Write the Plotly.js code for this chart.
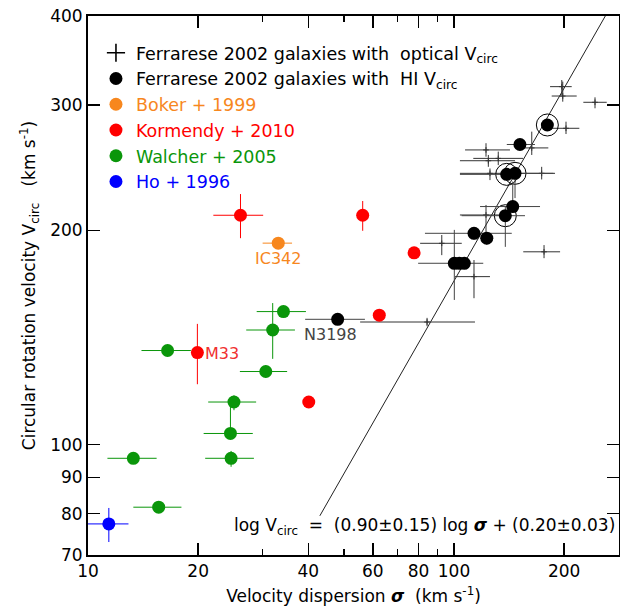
<!DOCTYPE html>
<html>
<head>
<meta charset="utf-8">
<script src="https://cdn.plot.ly/plotly-3.0.1.min.js"></script>
<style>html,body{margin:0;padding:0;background:#fff;}#chart{width:620px;height:612px;}</style>
</head>
<body>
<div id="chart"></div>
<script>
// ---- Ferrarese 2002, optical V_circ (crosses) ----
const optSigma      = [197.0, 198.2, 242.8, 202.3, 163.1, 122.3, 124.1, 132.1, 173.6, 125.4, 122.3, 92.6, 176.2, 113.4, 84.4];
const optSigmaMinus = [14.0, 13.3, 17.2, 17.4, 14.7, 15.1, 20.3, 19.2, 26.8, 21.6, 18.5, 11.8, 21.6, 12.8, 29.0];
const optSigmaPlus  = [12.7, 18.2, 18.6, 17.7, 17.9, 19.9, 22.7, 22.5, 15.2, 9.6, 19.9, 12.4, 18.7, 12.0, 29.7];
const optV          = [318.3, 308.8, 302.6, 278.2, 261.1, 259.4, 250.5, 252.4, 240.5, 240.5, 210.2, 191.8, 186.6, 172.2, 148.7];
const optVPlus      = [6.9, 14.7, 4.9, 6.0, 14.1, 5.7, 4.7, 5.6, 5.1, 3.8, 6.9, 5.2, 4.1, 9.5, 2.0];
const optVMinus     = [8.5, 5.6, 5.8, 5.1, 5.9, 5.6, 4.9, 5.4, 4.7, 5.2, 11.9, 7.2, 3.8, 11.6, 2.0];

// ---- Ferrarese 2002, HI V_circ (black dots) ----
const hiNames      = ['', '', '', '', '', '', '', '', '', '', '', 'N3198'];
const hiSigma      = [179.9, 151.4, 139.3, 146.8, 144.7, 138.1, 113.4, 122.9, 100.2, 103.4, 106.7, 48.1];
const hiSigmaMinus = [5, 12, 35.5, 10, 26.9, 33.2, 30.1, 5, 0, 23.6, 0, 8.9];
const hiSigmaPlus  = [5, 15, 10, 40, 27.1, 18.2, 30.4, 5, 0, 16.8, 0, 9.0];
const hiV          = [281.2, 264.0, 239.7, 240.5, 216.0, 209.7, 198.1, 195.0, 179.8, 179.8, 179.8, 150.0];
const hiVPlus      = [4, 4, 4, 5.1, 18.2, 6.3, 4, 4, 20.5, 0, 0, 0];
const hiVMinus     = [4, 4, 4, 18.5, 4, 20.1, 4, 4, 20.1, 0, 0, 0];
// HI galaxies marked with an open ring
const ringSigma    = [179.9, 139.3, 146.8, 138.1];
const ringV        = [281.2, 239.7, 240.5, 209.7];

// ---- Boker + 1999 ----
const bokNames = ['IC342'];
const bokSigma = [33.1], bokSigmaMinus = [3.1], bokSigmaPlus = [3.0];
const bokV = [191.9];

// ---- Kormendy + 2010 ----
const korNames      = ['', '', '', '', '', 'M33'];
const korSigma      = [26.1, 56.3, 77.8, 62.5, 40.1, 19.9];
const korSigmaMinus = [4.1, 0, 0, 0, 1.0, 0];
const korSigmaPlus  = [4.0, 0, 0, 0, 1.0, 0];
const korV          = [210.0, 210.0, 186.0, 152.0, 114.8, 134.7];
const korVPlus      = [14.9, 9.9, 0, 2, 0, 13.1];
const korVMinus     = [15.0, 10.3, 0, 2, 0, 13.1];

// ---- Walcher + 2005 ----
const walSigma      = [16.5, 34.2, 31.96, 30.6, 25.05, 24.5, 24.6, 13.3, 15.6];
const walSigmaMinus = [2.5, 5.3, 4.9, 4.6, 3.75, 3.8, 3.7, 2.0, 2.3];
const walSigmaPlus  = [2.6, 5.2, 4.8, 4.4, 3.75, 3.7, 3.8, 2.1, 2.4];
const walV          = [135.6, 153.8, 144.9, 126.7, 114.8, 103.7, 95.7, 95.7, 81.7];
const walVPlus      = [0, 2, 13.2, 2.5, 2.5, 11.1, 2.3, 0, 1.3];
const walVMinus     = [0, 2, 12.9, 2.5, 3.0, 1.0, 2.6, 0, 1.3];

// ---- Ho + 1996 ----
const hoSigma = [11.4], hoSigmaMinus = [1.4], hoSigmaPlus = [1.5];
const hoV = [77.4], hoVPlus = [4.1], hoVMinus = [4.4];

// ---- fitted relation (as drawn) ----
const fitSlope = 0.9, fitIntercept = 0.43;
const fitSigmaRange = [43, 260];

// ---- axis ticks ----
const xTickVals = [10, 20, 40, 60, 80, 100, 200];
const xMinorVals = [30, 50, 70, 90];
const yTickVals = [70, 80, 90, 100, 200, 300, 400];

const FONT = 'DejaVu Sans, Arial, sans-serif';
const ORANGE = '#f7871e', RED = '#ff0000', GREEN = '#0a960a', BLUE = '#0000ff';

function eb(plus, minus, color, w) {
  return {type: 'data', symmetric: false, array: plus, arrayminus: minus,
          color: color, thickness: w || 1, width: 0};
}

const fitX = fitSigmaRange;
const fitY = fitSigmaRange.map(s => Math.pow(10, fitSlope * Math.log10(s) + fitIntercept));

const traces = [
  {x: fitX, y: fitY, mode: 'lines', line: {color: '#222', width: 1}, showlegend: false, hoverinfo: 'skip'},
  // legend entry only for the optical crosses
  {x: [null], y: [null], mode: 'markers', name: 'Ferrarese 2002 galaxies with\u00a0 optical V<sub>circ</sub>',
   marker: {symbol: 'cross-thin', size: 13, line: {color: '#000', width: 1.6}, color: '#000'}},
  {x: optSigma, y: optV, mode: 'markers', showlegend: false,
   marker: {symbol: 'cross-thin', size: 4, line: {color: '#333', width: 1}, color: '#333'},
   error_x: eb(optSigmaPlus, optSigmaMinus, '#333', 1), error_y: eb(optVPlus, optVMinus, '#333', 1)},
  {x: ringSigma, y: ringV, mode: 'markers', showlegend: false,
   marker: {symbol: 'circle-open', size: 22, color: '#000', line: {width: 1, color: '#000'}}},
  {x: hiSigma, y: hiV, mode: 'markers', name: 'Ferrarese 2002 galaxies with\u00a0 HI V<sub>circ</sub>',
   marker: {symbol: 'circle', size: 13, color: '#000'},
   error_x: eb(hiSigmaPlus, hiSigmaMinus, '#444', 1), error_y: eb(hiVPlus, hiVMinus, '#444', 1)},
  {x: bokSigma, y: bokV, mode: 'markers', name: '<span style="color:' + ORANGE + '">Boker + 1999</span>',
   marker: {symbol: 'circle', size: 13, color: ORANGE},
   error_x: eb(bokSigmaPlus, bokSigmaMinus, ORANGE, 1)},
  {x: korSigma, y: korV, mode: 'markers', name: '<span style="color:' + RED + '">Kormendy + 2010</span>',
   marker: {symbol: 'circle', size: 13, color: RED},
   error_x: eb(korSigmaPlus, korSigmaMinus, RED, 1), error_y: eb(korVPlus, korVMinus, RED, 1)},
  {x: walSigma, y: walV, mode: 'markers', name: '<span style="color:' + GREEN + '">Walcher + 2005</span>',
   marker: {symbol: 'circle', size: 13, color: GREEN},
   error_x: eb(walSigmaPlus, walSigmaMinus, GREEN, 1), error_y: eb(walVPlus, walVMinus, GREEN, 1)},
  {x: hoSigma, y: hoV, mode: 'markers', name: '<span style="color:' + BLUE + '">Ho + 1996</span>',
   marker: {symbol: 'circle', size: 13, color: BLUE},
   error_x: eb(hoSigmaPlus, hoSigmaMinus, BLUE, 1), error_y: eb(hoVPlus, hoVMinus, BLUE, 1)}
];

function labelAt(xs, ys, names, color, xshift, yshift, xanchor) {
  const out = [];
  names.forEach((n, i) => {
    if (n) out.push({x: Math.log10(xs[i]), y: Math.log10(ys[i]), xref: 'x', yref: 'y', text: n,
      showarrow: false, xshift: xshift, yshift: yshift, xanchor: xanchor,
      font: {family: FONT, size: 16, color: color}});
  });
  return out;
}

const annotations = [
  ...labelAt(bokSigma, bokV, bokNames, ORANGE, 0, -15, 'center'),
  ...labelAt(korSigma, korV, korNames, '#f03030', 6, -1, 'left'),
  ...labelAt(hiSigma, hiV, hiNames, '#444', -7, -15, 'center'),
  {xref: 'paper', yref: 'paper', x: 0.996, y: 0.052, xanchor: 'right', yanchor: 'middle', showarrow: false,
   text: 'log V<sub>circ</sub>\u00a0 = \u00a0(0.90\u00b10.15) log <b><i>\u03c3</i></b> + (0.20\u00b10.03)',
   font: {family: FONT, size: 17, color: '#000'}}
];

const axisCommon = {
  type: 'log', showline: true, linewidth: 2, linecolor: '#000', mirror: 'ticks',
  ticks: 'inside', ticklen: 12, tickwidth: 1.5, tickcolor: '#000',
  showgrid: false, zeroline: false, tickmode: 'array',
  tickfont: {family: FONT, size: 17, color: '#000'}
};

const layout = {
  width: 620, height: 612,
  margin: {l: 88, r: 1, t: 16, b: 57},
  paper_bgcolor: '#fff', plot_bgcolor: '#fff',
  font: {family: FONT, size: 17, color: '#000'},
  showlegend: true,
  legend: {x: 0.015, y: 0.965, xanchor: 'left', yanchor: 'top', bgcolor: 'rgba(0,0,0,0)',
           font: {family: FONT, size: 17.5, color: '#000'}, tracegroupgap: 0, itemclick: false},
  xaxis: Object.assign({}, axisCommon, {
    range: [1, 2.4508], tickvals: xTickVals, ticktext: xTickVals.map(String),
    minor: {tickmode: 'array', tickvals: xMinorVals, ticks: 'inside', ticklen: 6, tickwidth: 1.5, tickcolor: '#000'},
    title: {text: 'Velocity dispersion <b><i>\u03c3</i></b>\u00a0 (km s<sup>-1</sup>)', font: {family: FONT, size: 17}, standoff: 10}
  }),
  yaxis: Object.assign({}, axisCommon, {
    range: [Math.log10(70), Math.log10(400)], tickvals: yTickVals, ticktext: yTickVals.map(String),
    title: {text: 'Circular rotation velocity V<sub>circ</sub>\u00a0\u00a0 (km s<sup>-1</sup>)', font: {family: FONT, size: 17}, standoff: 10}
  }),
  annotations: annotations
};

Plotly.newPlot('chart', traces, layout, {staticPlot: true});
</script>
</body>
</html>
